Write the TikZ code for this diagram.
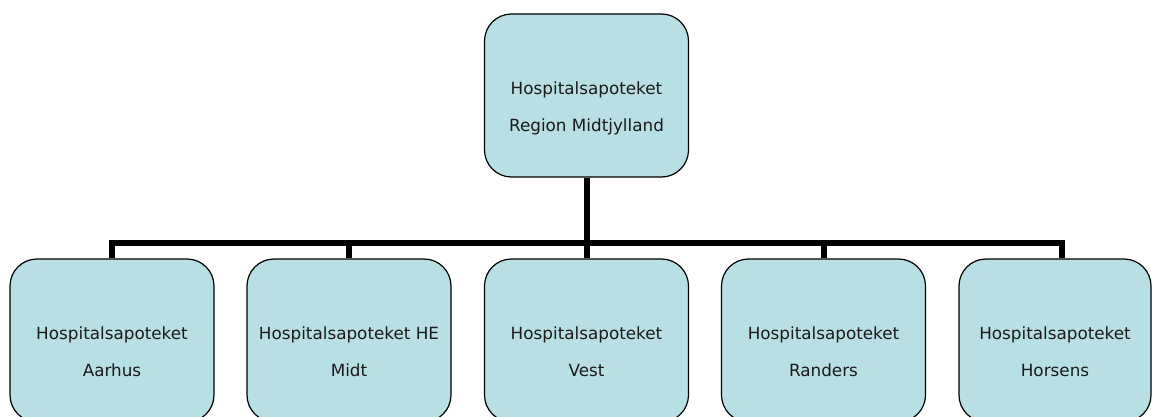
\documentclass[tikz,border=0pt]{standalone}
\usepackage{fontspec}
\setmainfont{DejaVu Sans}
\usetikzlibrary{positioning}
\definecolor{boxfill}{RGB}{184,223,228}
\definecolor{boxtext}{RGB}{26,26,26}

\tikzset{
  unitbox/.style={draw=black, line width=1.2pt, fill=boxfill, rounded corners=27pt,
    minimum width=204pt, minimum height=163pt, inner sep=0pt},
  unitlabel/.style={anchor=north, inner sep=0pt, align=center, text=boxtext,
    font=\fontsize{16.8}{37}\selectfont},
  link/.style={line width=6pt, line join=miter}
}

\begin{document}
\begin{tikzpicture}[x=1pt,y=1pt]
\useasboundingbox (0,0) rectangle (1152,416);
% Top unit
\node[unitbox] (main) at (586.5,320.5) {};
\node[unitlabel] (mainlbl) at ([yshift=14pt]main.center) {Hospitalsapoteket\\Region Midtjylland};
\coordinate (bar) at (586.5,173);
% Local units
\foreach \n/\x/\w/\dx/\t in {
    aarhus/112/204/0/{Hospitalsapoteket\\Aarhus},
    midt/349/204/0/{Hospitalsapoteket HE\\Midt},
    vest/586.5/204/0/{Hospitalsapoteket\\Vest},
    randers/823.5/204/0/{Hospitalsapoteket\\Randers},
    horsens/1055/192/7/{Hospitalsapoteket\\Horsens}}{
  \node[unitbox, minimum width=\w pt] (\n) at (\x,75.5) {};
  \node[unitlabel] (\n lbl) at ([yshift=14pt]\n.center) {\t};
  \draw[link] (main.south) -- (main.south |- bar) -| ([xshift=\dx pt]\n.north);
}
\end{tikzpicture}
\end{document}
